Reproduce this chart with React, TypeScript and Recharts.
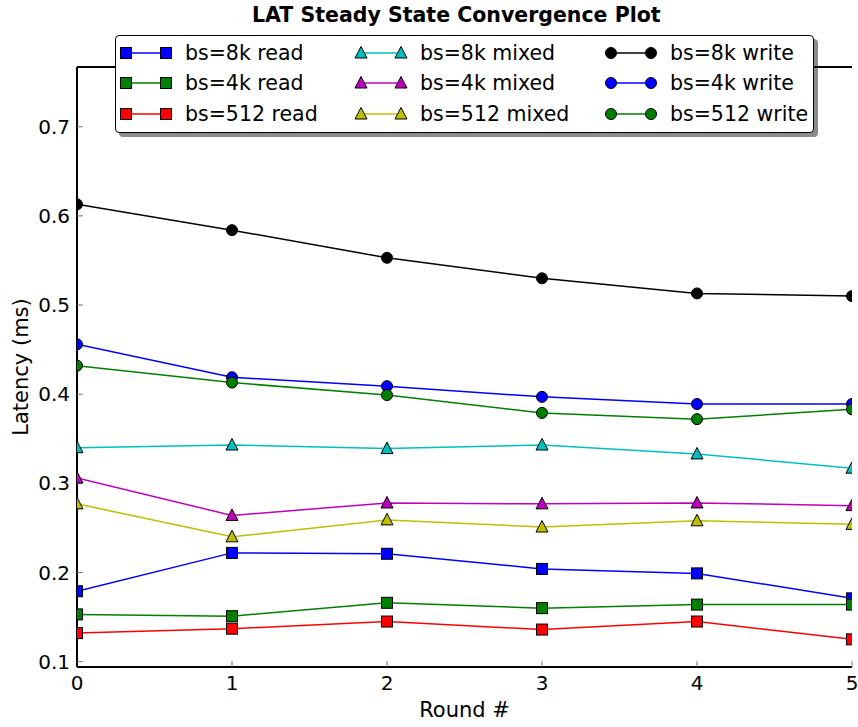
import { LineChart, Line, XAxis, YAxis, ReferenceLine } from "recharts";

const rounds = [0, 1, 2, 3, 4, 5];
const yTicks = [0.1, 0.2, 0.3, 0.4, 0.5, 0.6, 0.7];

const read8k = [0.179, 0.222, 0.221, 0.204, 0.199, 0.171];
const read4k = [0.153, 0.151, 0.166, 0.16, 0.164, 0.164];
const read512 = [0.132, 0.137, 0.145, 0.136, 0.145, 0.125];
const mixed8k = [0.34, 0.343, 0.339, 0.343, 0.333, 0.317];
const mixed4k = [0.306, 0.264, 0.278, 0.277, 0.278, 0.275];
const mixed512 = [0.277, 0.24, 0.259, 0.251, 0.258, 0.254];
const write8k = [0.613, 0.584, 0.553, 0.53, 0.513, 0.51];
const write4k = [0.456, 0.419, 0.409, 0.397, 0.389, 0.389];
const write512 = [0.432, 0.413, 0.399, 0.379, 0.372, 0.383];

type Shape = "square" | "triangle" | "circle";

const series: { key: string; name: string; color: string; shape: Shape; values: number[] }[] = [
  { key: "r8k", name: "bs=8k read", color: "#0000ff", shape: "square", values: read8k },
  { key: "r4k", name: "bs=4k read", color: "#008000", shape: "square", values: read4k },
  { key: "r512", name: "bs=512 read", color: "#ff0000", shape: "square", values: read512 },
  { key: "m8k", name: "bs=8k mixed", color: "#00bfbf", shape: "triangle", values: mixed8k },
  { key: "m4k", name: "bs=4k mixed", color: "#bf00bf", shape: "triangle", values: mixed4k },
  { key: "m512", name: "bs=512 mixed", color: "#bfbf00", shape: "triangle", values: mixed512 },
  { key: "w8k", name: "bs=8k write", color: "#000000", shape: "circle", values: write8k },
  { key: "w4k", name: "bs=4k write", color: "#0000ff", shape: "circle", values: write4k },
  { key: "w512", name: "bs=512 write", color: "#008000", shape: "circle", values: write512 },
];

const data = rounds.map((r, i) => {
  const row: Record<string, number> = { round: r };
  series.forEach((s) => (row[s.key] = s.values[i]));
  return row;
});

const yDomain: [number, number] = [0.094, 0.767];
const font = "'DejaVu Sans', sans-serif";

// chart box
const W = 858;
const H = 727;
const margin = { top: 67, right: 6, bottom: 30, left: 17 };
const yAxisW = 60;
const xAxisH = 30;
const plot = {
  x: margin.left + yAxisW,
  y: margin.top,
  w: W - margin.left - yAxisW - margin.right,
  h: H - margin.top - margin.bottom - xAxisH,
};

function Marker({ shape, cx, cy, color }: { shape: Shape; cx: number; cy: number; color: string }) {
  if (shape === "square") {
    return <rect x={cx - 5.5} y={cy - 5.5} width={11} height={11} fill={color} stroke="#000" strokeWidth={1} />;
  }
  if (shape === "triangle") {
    return (
      <polygon
        points={`${cx},${cy - 6.5} ${cx - 6},${cy + 5} ${cx + 6},${cy + 5}`}
        fill={color}
        stroke="#000"
        strokeWidth={1}
      />
    );
  }
  return <circle cx={cx} cy={cy} r={5.5} fill={color} stroke="#000" strokeWidth={1} />;
}

function LegendBox() {
  const cols = [10, 245, 495];
  const rows = [17, 47, 78];
  return (
    <div
      style={{
        position: "absolute",
        left: 115,
        top: 35,
        width: 697,
        height: 96,
        border: "1.5px solid #000",
        borderRadius: 4,
        background: "#fff",
        boxShadow: "4px 4px 0 rgba(0,0,0,0.45)",
      }}
    >
      <svg width={697} height={96} style={{ position: "absolute", left: 0, top: 0 }}>
        {series.map((s, i) => {
          const x = cols[Math.floor(i / 3)];
          const y = rows[i % 3];
          return (
            <g key={s.key}>
              <line x1={x} x2={x + 40} y1={y} y2={y} stroke={s.color} strokeWidth={1.5} />
              <Marker shape={s.shape} cx={x} cy={y} color={s.color} />
              <Marker shape={s.shape} cx={x + 40} cy={y} color={s.color} />
              <text x={x + 59} y={y + 7} fontSize={20.5} fontFamily={font} fill="#000">
                {s.name}
              </text>
            </g>
          );
        })}
      </svg>
    </div>
  );
}

export default function App() {
  return (
    <div style={{ position: "absolute", left: 0, top: 0, width: W, height: H, background: "#fff", fontFamily: font }}>
      <LineChart width={W} height={H} data={data} margin={margin}>
        <XAxis
          dataKey="round"
          type="number"
          domain={[0, 5]}
          ticks={rounds}
          allowDataOverflow
          height={xAxisH}
          tickSize={-6}
          tickMargin={15}
          axisLine={{ stroke: "#000", strokeWidth: 2 }}
          tickLine={{ stroke: "#777" }}
          tick={{ fill: "#000", fontSize: 20, fontFamily: font }}
        />
        <XAxis
          xAxisId="top"
          orientation="top"
          dataKey="round"
          type="number"
          domain={[0, 5]}
          ticks={rounds}
          allowDataOverflow
          height={0}
          tickSize={-6}
          tick={false}
          axisLine={{ stroke: "#000", strokeWidth: 2 }}
          tickLine={{ stroke: "#777" }}
        />
        <YAxis
          type="number"
          domain={yDomain}
          ticks={yTicks}
          allowDataOverflow
          width={yAxisW}
          tickSize={-6}
          tickMargin={13}
          tickFormatter={(v: number) => v.toFixed(1)}
          axisLine={{ stroke: "#000", strokeWidth: 2 }}
          tickLine={{ stroke: "#777" }}
          tick={{ fill: "#000", fontSize: 20, fontFamily: font }}
        />
        <YAxis
          yAxisId="right"
          orientation="right"
          type="number"
          domain={yDomain}
          ticks={yTicks}
          allowDataOverflow
          width={0}
          tickSize={-6}
          tick={false}
          axisLine={{ stroke: "#000", strokeWidth: 2 }}
          tickLine={{ stroke: "#777" }}
        />
        <ReferenceLine y={yDomain[1]} stroke="#000" strokeWidth={2} ifOverflow="extendDomain" />
        {series.map((s) => (
          <Line
            key={s.key}
            dataKey={s.key}
            name={s.name}
            stroke={s.color}
            strokeWidth={1.5}
            isAnimationActive={false}
            dot={(p: any) => (
              <svg
                key={`${s.key}-${p.index}`}
                x={plot.x}
                y={plot.y}
                width={plot.w}
                height={plot.h}
                overflow="hidden"
              >
                <Marker shape={s.shape} cx={p.cx - plot.x} cy={p.cy - plot.y} color={s.color} />
              </svg>
            )}
          />
        ))}
      </LineChart>
      <div
        style={{
          position: "absolute",
          left: 252,
          width: 400,
          top: 3,
          textAlign: "center",
          fontWeight: "bold",
          fontSize: 20.5,
          whiteSpace: "nowrap",
        }}
      >
        LAT Steady State Convergence Plot
      </div>
      <div style={{ position: "absolute", left: plot.x, width: plot.w, top: 698, textAlign: "center", fontSize: 21 }}>
        Round #
      </div>
      <div
        style={{
          position: "absolute",
          left: 21,
          top: plot.y + plot.h / 2,
          transform: "translate(-50%, -50%) rotate(-90deg)",
          whiteSpace: "nowrap",
          fontSize: 21,
        }}
      >
        Latency (ms)
      </div>
      <LegendBox />
    </div>
  );
}
